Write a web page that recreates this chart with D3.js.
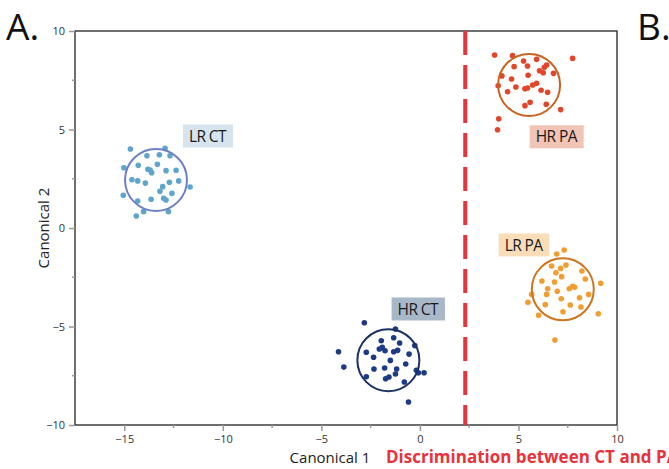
<!DOCTYPE html>
<html>
<head>
<meta charset="utf-8">
<script src="https://cdn.jsdelivr.net/npm/d3@7"></script>
<style>
  body { margin: 0; background: #fff; overflow: hidden; }
  text { font-family: "Open Sans", "Noto Sans", sans-serif; }
</style>
</head>
<body>
<script>
// canonical scores per group
var lrCtX = [-14.69, -12.93, -13.85, -13.22, -12.68, -15.02, -14.29, -13.32, -13.80, -13.69, -13.61, -12.88, -12.37, -14.61, -14.32, -13.93, -12.71, -12.24, -13.05, -13.19, -11.66, -12.58, -15.05, -14.32, -13.64, -13.00, -12.88, -14.02, -14.39, -12.76];
var lrCtY = [4.01, 4.05, 3.67, 3.72, 3.67, 3.06, 3.18, 3.23, 2.98, 2.94, 2.81, 2.91, 2.93, 2.45, 2.39, 2.28, 2.32, 2.39, 2.10, 1.86, 2.08, 1.76, 1.66, 1.37, 1.46, 1.51, 1.42, 0.83, 0.61, 0.83];

var hrCtX = [-2.82, -1.24, -1.33, -1.96, -1.03, -0.26, -2.06, -1.91, -1.77, -1.33, -1.13, -4.13, -2.72, -0.55, -2.35, -1.50, -0.72, -3.86, -2.33, -1.79, -1.18, -0.18, -0.08, 0.21, -1.24, -2.72, -1.57, -1.74, -0.79, -0.58];
var hrCtY = [-4.81, -5.13, -5.57, -5.72, -5.84, -5.97, -6.14, -6.06, -6.23, -6.28, -6.21, -6.28, -6.31, -6.40, -6.56, -6.72, -6.90, -7.06, -7.16, -7.11, -7.16, -7.22, -7.35, -7.35, -7.41, -7.55, -7.56, -7.65, -7.82, -8.83];

var hrPaX = [3.79, 4.70, 7.75, 5.26, 5.92, 6.43, 5.46, 4.78, 6.31, 6.07, 6.26, 6.78, 4.16, 5.49, 4.65, 3.97, 4.87, 5.72, 5.92, 5.33, 5.46, 4.45, 6.15, 6.48, 5.59, 5.33, 6.41, 7.14, 4.00, 3.94];
var hrPaY = [8.78, 8.75, 8.61, 8.48, 8.56, 8.27, 8.22, 8.19, 8.16, 7.98, 7.88, 7.85, 7.72, 7.75, 7.56, 7.22, 7.16, 7.26, 7.35, 7.07, 7.11, 6.92, 6.99, 6.89, 6.38, 6.21, 6.28, 6.01, 5.54, 4.99];

var lrPaX = [7.32, 6.94, 6.68, 7.14, 7.41, 8.22, 6.90, 7.19, 6.19, 6.83, 8.39, 9.17, 7.75, 7.85, 7.58, 6.48, 6.97, 5.67, 6.43, 8.56, 8.10, 7.17, 5.48, 6.36, 7.63, 8.17, 7.26, 9.05, 6.02, 6.85];
var lrPaY = [-1.12, -1.32, -1.93, -2.05, -1.88, -2.18, -2.27, -2.47, -2.69, -2.74, -2.59, -2.81, -2.96, -3.01, -3.08, -3.08, -3.21, -3.37, -3.37, -3.37, -3.54, -3.59, -3.77, -3.89, -3.91, -4.01, -4.25, -4.35, -4.43, -5.69];

// group names, centroids and label anchors
var groupNames = ["LR CT", "HR CT", "HR PA", "LR PA"];
var centroidX = [-13.39, -1.60, 5.54, 7.25];
var centroidY = [2.44, -6.71, 7.26, -3.11];
var labelX = [-10.78, -0.11, 6.92, 5.26];
var labelY = [4.67, -4.11, 4.63, -0.86];

var xTicks = [-15, -10, -5, 0, 5, 10];
var yTicks = [-10, -5, 0, 5, 10];
var xMinor = [-12.5, -7.5, -2.5, 2.5, 7.5];
var yMinor = [-7.5, -2.5, 2.5, 7.5];
var cutoff = 2.3;

var pointColors = ["#5fa4cb", "#1d3a84", "#e2462a", "#f29d32"];
var ringColors = ["#6e80c4", "#1c3262", "#c8621f", "#cd741d"];
var boxColors = ["#d5e4ed", "#a9b8c8", "#f1c4b5", "#f9ddb9"];

var groups = [
  {x: lrCtX, y: lrCtY},
  {x: hrCtX, y: hrCtY},
  {x: hrPaX, y: hrPaY},
  {x: lrPaX, y: lrPaY}
];

var width = 669, height = 469;
var x = d3.scaleLinear().domain([-17.5, 10]).range([75, 617]);
var y = d3.scaleLinear().domain([-10, 10]).range([425, 31]);

var svg = d3.select("body").append("svg")
  .attr("width", width)
  .attr("height", height);

// frame
svg.append("rect")
  .attr("x", x(-17.5)).attr("y", y(10))
  .attr("width", x(10) - x(-17.5)).attr("height", y(-10) - y(10))
  .attr("fill", "none").attr("stroke", "#222").attr("stroke-width", 1.3);

// axes
var xAxis = svg.append("g")
  .attr("transform", "translate(0," + y(-10) + ")")
  .call(d3.axisBottom(x).tickValues(xTicks).tickSize(6).tickPadding(4).tickFormat(d3.format("d")));
var yAxis = svg.append("g")
  .attr("transform", "translate(" + x(-17.5) + ",0)")
  .call(d3.axisLeft(y).tickValues(yTicks).tickSize(6).tickPadding(4).tickFormat(d3.format("d")));

[xAxis, yAxis].forEach(function(a) {
  a.select(".domain").remove();
  a.selectAll(".tick line").attr("stroke", "#999").attr("stroke-width", 1.5);
  a.selectAll(".tick text").attr("fill", "#333").style("font-size", "11px");
});

svg.selectAll(".xminor")
  .data(xMinor)
  .enter()
  .append("line")
  .attr("x1", function(d) { return x(d); })
  .attr("x2", function(d) { return x(d); })
  .attr("y1", y(-10)).attr("y2", y(-10) + 3)
  .attr("stroke", "#999").attr("stroke-width", 1.5);

svg.selectAll(".yminor")
  .data(yMinor)
  .enter()
  .append("line")
  .attr("y1", function(d) { return y(d); })
  .attr("y2", function(d) { return y(d); })
  .attr("x1", x(-17.5)).attr("x2", x(-17.5) - 3)
  .attr("stroke", "#999").attr("stroke-width", 1.5);

// cutoff line
svg.append("line")
  .attr("x1", x(cutoff)).attr("x2", x(cutoff))
  .attr("y1", y(10)).attr("y2", y(-10))
  .attr("stroke", "#e8323c").attr("stroke-width", 4)
  .attr("stroke-dasharray", "24,10");

// points
groups.forEach(function(g, gi) {
  svg.append("g").selectAll("circle")
    .data(g.x)
    .enter()
    .append("circle")
    .attr("cx", function(d) { return x(d); })
    .attr("cy", function(d, i) { return y(g.y[i]); })
    .attr("r", 2.8)
    .attr("fill", pointColors[gi]);
});

// group rings
svg.selectAll(".ring")
  .data(groupNames)
  .enter()
  .append("circle")
  .attr("cx", function(d, i) { return x(centroidX[i]); })
  .attr("cy", function(d, i) { return y(centroidY[i]); })
  .attr("r", 31)
  .attr("fill", "none")
  .attr("stroke", function(d, i) { return ringColors[i]; })
  .attr("stroke-width", 2);

// group labels
var labels = svg.selectAll(".lab")
  .data(groupNames)
  .enter()
  .append("g")
  .attr("transform", function(d, i) { return "translate(" + x(labelX[i]) + "," + y(labelY[i]) + ")"; });

labels.append("text")
  .attr("text-anchor", "middle")
  .attr("dy", "0.36em")
  .style("font-size", "15.5px")
  .style("letter-spacing", "-0.6px")
  .attr("fill", "#1a1a1a")
  .text(function(d) { return d; })
  .each(function(d, i) {
    var b = this.getBBox();
    d3.select(this.parentNode).insert("rect", "text")
      .attr("x", b.x - 6).attr("y", -11.5)
      .attr("width", b.width + 12).attr("height", 23)
      .attr("fill", boxColors[i]);
  });

// titles
svg.append("text")
  .attr("x", 6).attr("y", 40)
  .style("font-size", "37px")
  .attr("fill", "#111")
  .text("A.");
svg.append("text")
  .attr("x", 637).attr("y", 40)
  .style("font-size", "37px")
  .attr("fill", "#111")
  .text("B.");

svg.append("text")
  .attr("transform", "translate(49," + y(0) + ") rotate(-90)")
  .attr("text-anchor", "middle")
  .style("font-size", "15px")
  .attr("fill", "#222")
  .text("Canonical 2");

svg.append("text")
  .attr("x", 330).attr("y", 463)
  .attr("text-anchor", "middle")
  .style("font-size", "15px")
  .attr("fill", "#222")
  .text("Canonical 1");

svg.append("text")
  .attr("x", 386).attr("y", 463)
  .style("font-size", "17px")
  .style("font-weight", "bold")
  .attr("fill", "#e8323c")
  .text("Discrimination between CT and PA");
</script>
</body>
</html>
